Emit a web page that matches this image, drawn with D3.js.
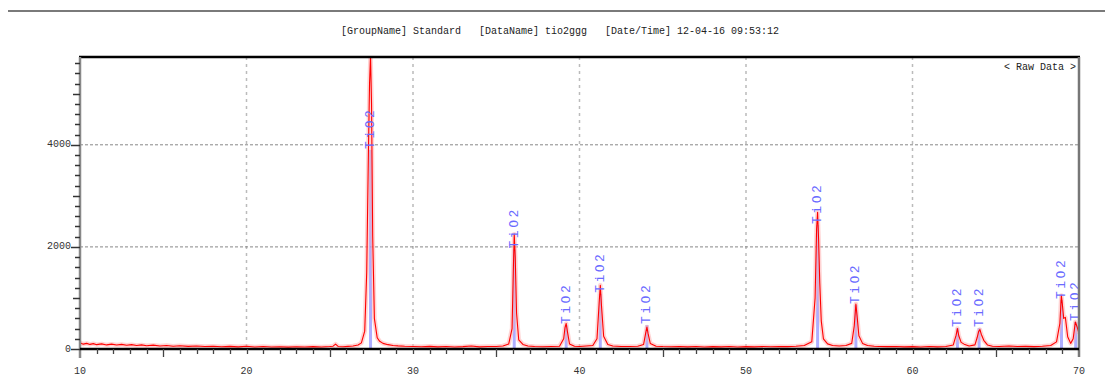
<!DOCTYPE html>
<html><head><meta charset="utf-8">
<script src="https://cdn.jsdelivr.net/npm/d3@7"></script>
<style>
html,body{margin:0;padding:0;background:#fff;}
svg{display:block;}
text{font-family:"Liberation Mono","DejaVu Sans Mono",monospace;}
</style></head>
<body>
<script>
// ---- data ----
const titleText = "[GroupName] Standard   [DataName] tio2ggg   [Date/Time] 12-04-16 09:53:12";
const panelLabel = "< Raw Data >";
const xTickLabels = [10, 20, 30, 40, 50, 60, 70];
const yTickLabels = [0, 2000, 4000];

const scanAngle = [10.0,10.2,10.4,10.6,10.8,11.0,11.3,11.6,11.9,12.2,12.5,12.8,13.1,13.4,13.7,14.0,14.4,14.8,15.2,15.6,16.0,16.5,17.0,17.5,18.0,18.5,19.0,19.5,20.0,20.5,21.0,21.5,22.0,22.5,23.0,23.5,24.0,24.5,25.0,25.2,25.35,25.5,25.8,26.1,26.4,26.7,26.9,27.1,27.22,27.32,27.39,27.45,27.51,27.58,27.68,27.85,28.0,28.2,28.5,28.8,29.1,29.5,30.0,30.5,31.0,31.5,32.0,32.5,33.0,33.5,34.0,34.5,35.0,35.4,35.75,35.95,36.03,36.08,36.14,36.22,36.35,36.6,36.9,37.3,37.8,38.3,38.8,39.05,39.13,39.2,39.28,39.4,39.7,40.0,40.4,40.8,41.05,41.18,41.25,41.32,41.45,41.7,42.0,42.5,43.0,43.5,43.85,43.98,44.05,44.12,44.25,44.6,45.0,45.5,46.0,46.5,47.0,47.5,48.0,48.5,49.0,49.5,50.0,50.5,51.0,51.5,52.0,52.5,53.0,53.5,53.95,54.15,54.24,54.3,54.36,54.43,54.52,54.65,54.9,55.2,55.6,56.0,56.35,56.5,56.6,56.68,56.78,57.0,57.3,57.7,58.0,58.5,59.0,59.5,60.0,60.5,61.0,61.5,62.0,62.45,62.62,62.7,62.78,62.92,63.1,63.4,63.75,63.88,63.97,64.05,64.13,64.28,64.5,64.8,65.2,65.8,66.3,66.8,67.3,67.8,68.3,68.65,68.85,68.94,69.0,69.08,69.18,69.32,69.5,69.65,69.78,69.9,70.0];
const scanCounts = [120,95,110,90,105,85,100,80,95,78,90,72,85,70,80,65,75,60,70,55,65,52,60,48,55,45,52,42,55,40,48,38,45,36,44,38,46,40,48,55,95,50,44,52,58,80,120,350,1500,3800,5200,5750,4800,2200,600,220,150,110,85,70,62,55,50,45,52,42,48,40,46,60,42,50,48,60,100,400,1600,2250,1800,700,180,90,60,50,44,48,55,200,420,500,330,100,55,48,60,70,200,900,1250,850,250,90,60,50,48,55,90,320,430,300,110,55,48,44,50,42,48,40,46,42,48,40,46,42,48,44,50,46,55,70,140,1000,2350,2680,2150,1300,550,200,100,70,60,70,110,450,880,620,260,110,70,55,50,46,50,42,46,40,48,42,50,80,270,400,260,130,95,60,80,220,340,380,290,170,80,55,50,60,48,52,46,55,70,140,500,1050,880,600,620,240,110,200,530,420,300];

const refAngle  = [27.45,36.08,39.2,41.25,44.05,54.3,56.6,62.7,64.0,68.95,69.8];
const refHeight = [3900,1950,470,1080,470,2430,860,410,410,960,530];
const refLabel  = "TiO2";

// ---- layout ----
const W = 1105, H = 380;
const m = {left:80, right:1079, top:57, bottom:349};
const svg = d3.select("body").append("svg").attr("width", W).attr("height", H);

const x = d3.scaleLinear().domain([10,70]).range([m.left, m.right]);
const y = d3.scaleLinear().domain([0,5720]).range([m.bottom, m.top]);

// top rule
svg.append("line").attr("x1",8).attr("x2",W).attr("y1",11).attr("y2",11)
  .attr("stroke","#7a7a7a").attr("stroke-width",2);

// title
svg.append("text").attr("x",560).attr("y",34).attr("text-anchor","middle")
  .attr("font-size",10).attr("fill","#222").style("white-space","pre").text(titleText);

// grid
const g = svg.append("g");
g.selectAll("line.vg").data(d3.range(20,70,10)).join("line")
  .attr("x1",d=>x(d)).attr("x2",d=>x(d)).attr("y1",m.top).attr("y2",m.bottom)
  .attr("stroke","#bbb").attr("stroke-width",1.5).attr("stroke-dasharray","3,4");
g.selectAll("line.hg").data([2000,4000]).join("line")
  .attr("x1",m.left).attr("x2",m.right).attr("y1",d=>y(d)).attr("y2",d=>y(d))
  .attr("stroke","#888").attr("stroke-width",1).attr("stroke-dasharray","3,2");

// clip
svg.append("clipPath").attr("id","clip").append("rect")
  .attr("x",m.left).attr("y",m.top).attr("width",m.right-m.left).attr("height",m.bottom-m.top);

const pts = scanAngle.map((a,i)=>[a, scanCounts[i]]);
const line = d3.line().x(d=>x(d[0])).y(d=>y(d[1]));
const plot = svg.append("g").attr("clip-path","url(#clip)");

// reference sticks (wide lavender)
plot.selectAll("line.stick").data(refAngle).join("line")
  .attr("x1",d=>x(d)).attr("x2",d=>x(d)).attr("y1",y(0))
  .attr("y2",(d,i)=>y(refHeight[i]))
  .attr("stroke","#8c8cff").attr("stroke-opacity",0.7).attr("stroke-width",3);

// pink band
plot.append("path").datum(pts).attr("d",line).attr("fill","none")
  .attr("stroke","#ffb0b0").attr("stroke-opacity",0.55).attr("stroke-width",4.5)
  .attr("stroke-linejoin","round");
// red data line
plot.append("path").datum(pts).attr("d",line).attr("fill","none")
  .attr("stroke","#ff0000").attr("stroke-width",1.1).attr("stroke-linejoin","round");

// labels
plot.selectAll("text.lab").data(refAngle).join("text")
  .attr("transform",(d,i)=>`translate(${x(d)},${y(refHeight[i])-1}) rotate(-90)`)
  .attr("dominant-baseline","central").attr("text-anchor","start")
  .attr("font-size",13).attr("letter-spacing",2.5).attr("fill","#6b6bff")
  .text(refLabel);

// frame
svg.append("line").attr("x1",m.left-1).attr("x2",m.right+1).attr("y1",m.top).attr("y2",m.top)
  .attr("stroke","#000").attr("stroke-width",2.5);
svg.append("line").attr("x1",m.right).attr("x2",m.right).attr("y1",m.top).attr("y2",m.bottom+8)
  .attr("stroke","#777").attr("stroke-width",2.5);
svg.append("line").attr("x1",m.left).attr("x2",m.left).attr("y1",m.top).attr("y2",m.bottom+9)
  .attr("stroke","#888").attr("stroke-width",2.5);
svg.append("line").attr("x1",m.left).attr("x2",m.right).attr("y1",m.bottom).attr("y2",m.bottom)
  .attr("stroke","#000").attr("stroke-width",2.5);

// y ticks
const yMinor = d3.range(0,5720,200);
svg.selectAll("line.yt").data(yMinor).join("line")
  .attr("x1",d=> d%2000===0 ? m.left-9 : (d%1000===0 ? m.left-7 : m.left-5))
  .attr("x2",m.left).attr("y1",d=>Math.round(y(d))+0.5).attr("y2",d=>Math.round(y(d))+0.5)
  .attr("stroke","#333").attr("stroke-width",1.5);
svg.selectAll("text.yl").data(yTickLabels).join("text")
  .attr("x",m.left-9).attr("y",d=>y(d)).attr("dominant-baseline","central")
  .attr("text-anchor","end").attr("font-size",10).attr("fill","#333").text(d=>d);

// x ticks
const xMinor = d3.range(11,70,1);
svg.selectAll("line.xt").data(xMinor).join("line")
  .attr("x1",d=>Math.round(x(d))+0.5).attr("x2",d=>Math.round(x(d))+0.5)
  .attr("y1",m.bottom).attr("y2",d=> d%10===0 ? m.bottom+5 : (d%5===0 ? m.bottom+8 : m.bottom+5))
  .attr("stroke","#444").attr("stroke-width",1.3);
svg.selectAll("text.xl").data(xTickLabels).join("text")
  .attr("x",d=>x(d)).attr("y",371).attr("dominant-baseline","central")
  .attr("text-anchor","middle").attr("font-size",10).attr("fill","#333").text(d=>d);

// panel label
svg.append("text").attr("x",m.right-3).attr("y",70).attr("text-anchor","end")
  .attr("font-size",10).attr("fill","#222").style("white-space","pre").text(panelLabel);
</script>
</body></html>
